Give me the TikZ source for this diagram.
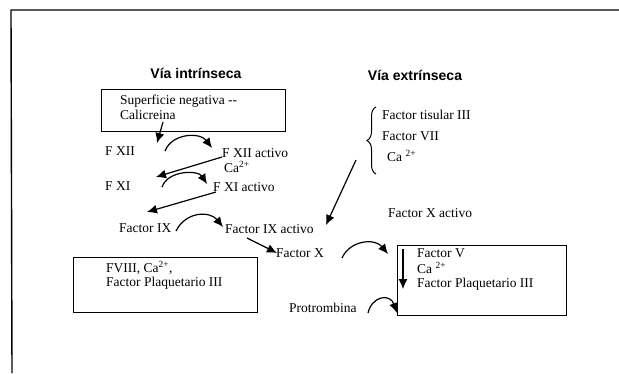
\documentclass[tikz,border=0pt]{standalone}
\usepackage{fontspec}
\setmainfont{Liberation Serif}
\newfontfamily\titlefont{Liberation Sans}
\usetikzlibrary{arrows.meta,decorations.pathreplacing}
\tikzset{
  lbl/.style={anchor=west,inner sep=0pt,font=\fontsize{13.5}{15}\selectfont},
  ttl/.style={inner sep=0pt,font=\titlefont\bfseries\fontsize{14}{16}\selectfont},
  boxn/.style={draw,line width=1pt,inner sep=0pt},
  arr/.style={line width=1.2pt,-{Latex[length=10pt,width=9pt]}},
  frame/.style={line width=1.4pt}
}
\begin{document}
\begin{tikzpicture}[x=1pt,y=-1pt]
\useasboundingbox (0,0) rectangle (619,373);
% outer frame
\coordinate (f1) at (11,10);
\coordinate (f2) at (619,10);
\coordinate (f3) at (12,373);
\draw[frame] (f3) -- (f1) -- (f2);
% titles
\node[ttl] (t1) at (196,73) {Vía intrínseca};
\node[ttl] (t2) at (415,75) {Vía extrínseca};
% boxes
\node[boxn,minimum width=184pt,minimum height=42pt] (b1) at (193,110) {};
\node[lbl] (b1a) at (120,101) {Superficie negativa -{}-};
\node[lbl] (b1b) at (120,115) {Calicreina};
\node[boxn,minimum width=184pt,minimum height=55pt] (b3) at (165,284.5) {};
\node[lbl] (b3a) at (106,268) {FVIII, Ca\textsuperscript{2+},};
\node[lbl] (b3b) at (106,283) {Factor Plaquetario III};
\node[boxn,minimum width=169pt,minimum height=70pt] (b2) at (481.5,280) {};
% intrinsic labels
\node[lbl] (fxii) at (105,151) {F XII};
\node[lbl] (fxiia) at (222,153) {F XII activo};
\node[lbl] (ca1) at (224,167) {Ca\textsuperscript{2+}};
\node[lbl] (fxi) at (105,186) {F XI};
\node[lbl] (fxia) at (213,187) {F XI activo};
\node[lbl] (fix) at (119,228) {Factor IX};
\node[lbl] (fixa) at (225,229) {Factor IX activo};
\node[lbl] (fx) at (276,253) {Factor X};
% extrinsic labels
\node[lbl] (ft) at (382,115) {Factor tisular III};
\node[lbl] (f7) at (382,136) {Factor VII};
\node[lbl] (ca2) at (387,156) {Ca \textsuperscript{2+}};
\node[lbl] (fxa) at (388,213) {Factor X activo};
\node[lbl] (fv) at (417,253) {Factor V};
\node[lbl] (ca3) at (417,268) {Ca \textsuperscript{2+}};
\node[lbl] (fp) at (417,284) {Factor Plaquetario III};
\node[lbl] (pro) at (289,308) {Protrombina};
% brace
\coordinate (br1) at (376,174);
\coordinate (br2) at (376,107);
\draw[line width=1pt,decorate,decoration={brace,amplitude=9pt}] (br1) -- (br2);
% arrow endpoints
\coordinate (a1s) at (163,122);
\coordinate (a1e) at (157,143);
\coordinate (c1s) at (165,151);
\coordinate (c1e) at (212,148);
\coordinate (a2s) at (222,157);
\coordinate (a2e) at (156,177);
\coordinate (c2s) at (162,187);
\coordinate (c2e) at (207,184);
\coordinate (a3s) at (216,192);
\coordinate (a3e) at (147,212);
\coordinate (c3s) at (176,231);
\coordinate (c3e) at (223,227);
\coordinate (a4s) at (247,238);
\coordinate (a4e) at (277,253);
\coordinate (a5s) at (356,160);
\coordinate (a5e) at (326,225);
\coordinate (c4s) at (342,258);
\coordinate (c4e) at (388,254);
\coordinate (v1s) at (403,249);
\coordinate (v1e) at (403,289);
\coordinate (c5s) at (368,313);
\coordinate (c5e) at (397,313);
% connectors
\draw[arr] (a1s) -- (a1e);
\draw[arr] (c1s) .. controls (172,133) and (200,132) .. (c1e);
\draw[arr] (a2s) -- (a2e);
\draw[arr] (c2s) .. controls (168,170) and (198,170) .. (c2e);
\draw[arr] (a3s) -- (a3e);
\draw[arr] (c3s) .. controls (186,211) and (210,211) .. (c3e);
\draw[arr] (a4s) -- (a4e);
\draw[arr] (a5s) -- (a5e);
\draw[arr] (c4s) .. controls (350,240) and (375,238) .. (c4e);
\draw[arr] (v1s) -- (v1e);
\draw[arr] (c5s) .. controls (372,296) and (390,293) .. (c5e);
\end{tikzpicture}
\end{document}
